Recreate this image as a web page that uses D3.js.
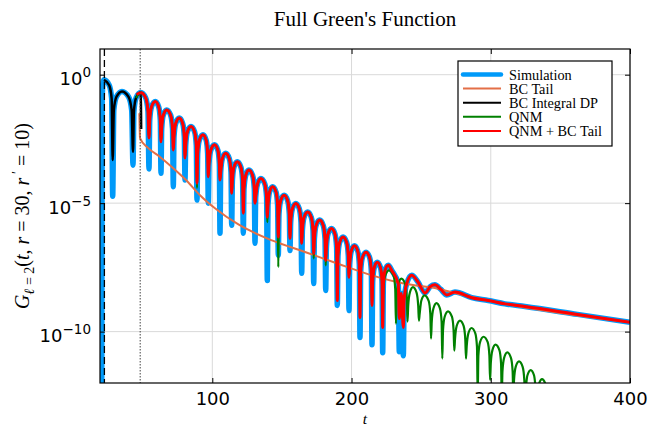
<!DOCTYPE html>
<html>
<head>
<meta charset="utf-8">
<script src="https://cdnjs.cloudflare.com/ajax/libs/d3/7.8.5/d3.min.js"></script>
<style>
body { margin: 0; background: #fff; }
text { white-space: pre; }
</style>
</head>
<body>
<div id="vis"></div>
<script>
// ---- data (log10 of G) ----
var xTickValues = [100, 200, 300, 400];
var yTickValues = [1, 1e-5, 1e-10];
var yTickExp = ["0", "\u22125", "\u221210"];

var lightConeT = 22.5;   // dashed line
var matchT = 48.2;       // dotted line

// shared arches (peaks + shoulders) of the ringing part
var archT = [22.2, 25.96, 27.71,
  29.26, 31.16, 35.14, 39.84, 42.09,
  43.7, 45.25, 48.57, 52.15, 53.8,
  55.07, 56.33, 59.06, 61.5, 62.65,
  63.65, 64.8, 67.25, 70.1, 71.42,
  72.5, 73.7, 76.3, 78.75, 79.9,
  80.9, 82.1, 84.7, 87.3, 88.5,
  89.5, 90.7, 93.3, 95.6, 96.65,
  97.65, 98.9, 101.58, 104.0, 105.05,
  106.03, 107.2, 109.62, 112.2, 113.43,
  114.43, 115.55, 117.95, 120.55, 121.76,
  122.76, 124.0, 126.3, 128.95, 130.17,
  131.17, 132.5, 134.9, 137.7, 139.0,
  140.0, 141.1, 143.3, 145.8, 146.9,
  147.9, 149.1, 151.6, 154.1, 155.3,
  156.3, 157.5, 160.0, 162.5, 163.7,
  164.7, 165.9, 168.5, 171.1, 172.33,
  173.33, 174.55, 177.1, 179.7, 180.95,
  181.95, 183.1, 185.6, 188.1, 189.28,
  190.28, 191.45, 193.9, 196.5, 197.68,
  198.68, 199.8, 202.1, 204.5, 205.58,
  206.58, 207.8, 210.4, 213.0, 214.2,
  215.2, 216.3, 218.5, 220.8, 221.88];
var archLogG = [-0.20, -0.41, -0.93,
  -1.38, -0.86, -0.65, -0.86, -1.38,
  -1.42, -0.90, -0.69, -0.90, -1.42,
  -1.77, -1.25, -1.04, -1.25, -1.77,
  -2.10, -1.58, -1.37, -1.58, -2.10,
  -2.42, -1.90, -1.69, -1.90, -2.42,
  -2.75, -2.23, -2.02, -2.23, -2.75,
  -3.07, -2.55, -2.34, -2.55, -3.07,
  -3.46, -2.94, -2.73, -2.94, -3.46,
  -3.79, -3.27, -3.06, -3.27, -3.79,
  -4.12, -3.60, -3.39, -3.60, -4.12,
  -4.44, -3.92, -3.71, -3.92, -4.44,
  -4.77, -4.25, -4.04, -4.25, -4.77,
  -5.09, -4.57, -4.36, -4.57, -5.09,
  -5.42, -4.90, -4.69, -4.90, -5.42,
  -5.74, -5.22, -5.01, -5.22, -5.74,
  -6.07, -5.55, -5.34, -5.55, -6.07,
  -6.39, -5.87, -5.66, -5.87, -6.39,
  -6.72, -6.20, -5.99, -6.20, -6.72,
  -7.05, -6.53, -6.32, -6.53, -7.05,
  -7.39, -6.87, -6.66, -6.87, -7.39,
  -7.64, -7.12, -6.91, -7.12, -7.64,
  -8.03, -7.51, -7.30, -7.51, -8.03];

// troughs of the ringing part, depth per curve
var troughT = [28.46, 43.04, 54.53, 63.15, 71.99, 80.39, 89.01, 97.12, 105.53, 113.93, 122.26, 130.67,
  139.5, 147.4, 155.8, 164.21, 172.83, 181.45, 189.78, 198.18, 206.08, 214.7, 222.38];
var simTroughLogG = [-4.73, -3.52, -3.67, -3.84, -4.36, -4.10, -4.88, -5.00, -6.17, -5.86, -6.17, -6.56,
  -8.01, -7.03, -6.84, -7.73, -8.13, -8.40, -8.98, -9.18, -10.23, -10.51, -10.82];
var fitTroughLogG = [null, null, -2.46, -2.61, -2.93, -3.24, -4.22, -3.97, -4.10, -4.61, -5.39, -5.00,
  -5.54, -6.32, -6.37, -6.56, -6.95, -7.23, -8.79, -7.88, -9.45, -8.98, -9.84];
var qnmTroughLogG = [null, null, -2.46, -2.61, -2.93, -3.24, -4.41, -3.97, -4.10, -4.61, -5.39, -5.00,
  -5.74, -7.49, -6.37, -6.56, -7.15, -7.42, -8.79, -7.89, -9.45, -8.98, -9.84];

// Simulation
var simHeadT = [20.6, 20.9, 21.5];
var simHeadLogG = [-13, -1.0, -0.30];

// late part shared by Simulation and QNM + BC Tail
var tailT = [222.88, 224.0, 226.4, 229.0, 233.6, 235.7, 237.8, 239.6, 243.2, 247.5, 252.8, 256.5,
  259.9, 264.0, 268.4, 274.3, 286.3, 298.2, 310.2, 324.6, 362.3, 400];
var tailLogG = [-8.10, -7.63, -7.42, -7.63, -8.15, -8.52, -8.75, -8.14, -7.81, -8.05, -8.50, -8.25,
  -8.18, -8.35, -8.57, -8.46, -8.68, -8.79, -8.92, -9.02, -9.33, -9.64];
var tailTroughT = [234.3, 237.2];
var simTailTroughLogG = [-10.78, -10.94];
var fitTailTroughLogG = [-9.49, -9.84];

// QNM + BC Tail start
var fitHeadT = [45.7];
var fitHeadLogG = [-0.78];

// QNM
var qnmHeadT = [45.2];
var qnmHeadLogG = [-0.91];
var qnmTailT = [222.88, 224.1, 226.9, 230.2, 231.4, 231.9,
  232.4, 233.6, 235.8, 238.5, 239.7, 240.2,
  240.7, 241.9, 244.1, 246.7, 247.9, 248.4,
  248.9, 250.1, 252.4, 255.4, 256.6, 257.1,
  257.6, 258.8, 261.0, 263.5, 264.7, 265.2,
  265.7, 266.9, 269.3, 272.1, 273.3, 273.8,
  274.3, 275.5, 277.9, 280.5, 281.7, 282.2,
  282.7, 283.9, 286.2, 288.9, 290.1, 290.6,
  291.1, 292.3, 294.8, 297.8, 299.0, 299.5,
  300.0, 301.2, 303.4, 306.2, 307.4, 307.9,
  308.4, 309.6, 311.9, 314.5, 315.7, 316.2,
  316.7, 317.9, 320.3, 322.9, 324.1, 324.6,
  325.1, 326.3, 328.7, 331.1, 332.3, 332.8,
  333.3, 334.5, 336.8, 339.4, 340.6, 341.1];
var qnmTailLogG = [-8.35, -7.83, -7.62, -7.83, -8.35, -9.69,
  -8.67, -8.15, -7.94, -8.15, -8.67, -9.61,
  -9.00, -8.48, -8.27, -8.48, -9.00, -9.57,
  -9.32, -8.80, -8.59, -8.80, -9.32, -10.27,
  -9.62, -9.10, -8.89, -9.10, -9.62, -11.05,
  -9.94, -9.42, -9.21, -9.42, -9.94, -10.74,
  -10.30, -9.78, -9.57, -9.78, -10.30, -11.05,
  -10.59, -10.07, -9.86, -10.07, -10.59, -12.5,
  -10.93, -10.41, -10.20, -10.41, -10.93, -11.88,
  -11.24, -10.72, -10.51, -10.72, -11.24, -12.5,
  -11.54, -11.02, -10.81, -11.02, -11.54, -12.5,
  -11.89, -11.37, -11.16, -11.37, -11.89, -12.5,
  -12.23, -11.71, -11.50, -11.71, -12.23, -12.5,
  -12.58, -12.06, -11.85, -12.06, -12.58, -13.0];

// BC Integral DP
var dpTroughT = [28.46, 43.04];
var dpTroughLogG = [-3.32, -3.00];
var dpEndT = [48.9];
var dpEndLogG = [-2.11];

// BC Tail
var bcT = [47.6, 47.9, 48.07, 53.82, 62.43, 71.77, 81.11, 91.16, 101.93, 118.45, 142.87, 166.58,
  190.28, 214.7, 238.4, 262.1, 274.3, 298.0, 400];
var bcLogG = [-1.50, -2.20, -2.47, -2.85, -3.20, -3.63, -4.10, -4.69, -5.20, -5.82, -6.45, -6.90,
  -7.36, -7.81, -8.14, -8.33, -8.50, -8.79, -9.64];

var legendNames = ["Simulation", "BC Tail", "BC Integral DP", "QNM", "QNM + BC Tail"];
var colors = ["#009af9", "#e36f47", "#000000", "#008000", "#ff0000"];
var lineWidths = [5.5, 2, 2.5, 2.2, 3];

// ---- layout ----
var width = 650;
var height = 427;
var margin = {top: 49, left: 100, right: 20, bottom: 44};
var plotW = width - margin.left - margin.right;
var plotH = height - margin.top - margin.bottom;

var svg = d3.select("#vis")
    .append("svg")
    .attr("width", width)
    .attr("height", height)
    .style("font-family", "'DejaVu Sans', sans-serif");

var g = svg.append("g")
    .attr("transform", "translate(" + margin.left + "," + margin.top + ")");

var xscale = d3.scaleLinear().domain([19.34, 400]).range([0, plotW]);
var yscale = d3.scaleLog().domain([1e-12, 10]).range([plotH, 0]);

// grid
g.append("g").selectAll("line").data(xTickValues).enter().append("line")
    .attr("x1", function (d) { return xscale(d); })
    .attr("x2", function (d) { return xscale(d); })
    .attr("y1", 0).attr("y2", plotH)
    .attr("stroke", "#d9d9d9").attr("stroke-width", 1);
g.append("g").selectAll("line").data(yTickValues).enter().append("line")
    .attr("y1", function (d) { return yscale(d); })
    .attr("y2", function (d) { return yscale(d); })
    .attr("x1", 0).attr("x2", plotW)
    .attr("stroke", "#d9d9d9").attr("stroke-width", 1);

// curves
g.append("clipPath").attr("id", "clip")
    .append("rect").attr("width", plotW).attr("height", plotH);

function pick(ts, es, lo, hi) {
    var out = [];
    ts.forEach(function (t, i) {
        if (es[i] === null) return;
        if (lo !== undefined && t <= lo) return;
        if (hi !== undefined && t > hi) return;
        out.push({t: t, e: es[i]});
    });
    return out;
}
function join() {
    var pts = [];
    for (var i = 0; i < arguments.length; i++) pts = pts.concat(arguments[i]);
    return pts.sort(function (a, b) { return a.t - b.t; });
}

var simPts = join(pick(simHeadT, simHeadLogG), pick(archT, archLogG), pick(troughT, simTroughLogG),
    pick(tailT, tailLogG), pick(tailTroughT, simTailTroughLogG));
var bcPts = join(pick(bcT, bcLogG));
var dpPts = join(pick(archT, archLogG, undefined, 48.6), pick(dpTroughT, dpTroughLogG), pick(dpEndT, dpEndLogG));
var qnmPts = join(pick(qnmHeadT, qnmHeadLogG), pick(archT, archLogG, 45.3), pick(troughT, qnmTroughLogG),
    pick(qnmTailT, qnmTailLogG));
var fitPts = join(pick(fitHeadT, fitHeadLogG), pick(archT, archLogG, 45.7), pick(troughT, fitTroughLogG),
    pick(tailT, tailLogG), pick(tailTroughT, fitTailTroughLogG));

var line = d3.line()
    .x(function (d) { return xscale(d.t); })
    .y(function (d) { return yscale(Math.pow(10, d.e)); })
    .curve(d3.curveMonotoneX);

var curves = g.append("g").attr("clip-path", "url(#clip)");
[simPts, bcPts, dpPts, qnmPts, fitPts].forEach(function (pts, i) {
    curves.append("path")
        .attr("d", line(pts))
        .attr("fill", "none")
        .attr("stroke", colors[i])
        .attr("stroke-width", lineWidths[i])
        .attr("stroke-linejoin", "round");
});

// vertical markers
g.append("line")
    .attr("x1", xscale(lightConeT)).attr("x2", xscale(lightConeT))
    .attr("y1", 0).attr("y2", plotH)
    .attr("stroke", "#000").attr("stroke-width", 1.3)
    .attr("stroke-dasharray", "7,4");
g.append("line")
    .attr("x1", xscale(matchT)).attr("x2", xscale(matchT))
    .attr("y1", 0).attr("y2", plotH)
    .attr("stroke", "#444").attr("stroke-width", 1)
    .attr("stroke-dasharray", "1.5,1.5");

// axes
var xaxis = d3.axisBottom(xscale).tickValues(xTickValues).tickSizeInner(-5).tickSizeOuter(0).tickPadding(9);
var yaxis = d3.axisLeft(yscale).tickValues(yTickValues).tickSizeInner(-5).tickSizeOuter(0).tickPadding(9);

var gx = g.append("g").attr("transform", "translate(0," + plotH + ")").call(xaxis);
gx.selectAll("text").attr("font-size", 18).attr("font-family", "'DejaVu Sans', sans-serif").attr("fill", "#000");

var gy = g.append("g").call(yaxis);
gy.selectAll("text")
    .attr("font-family", "'DejaVu Sans', sans-serif")
    .attr("fill", "#000")
    .attr("dy", null)
    .attr("y", 10)
    .each(function (d, i) {
        var t = d3.select(this).text(null);
        t.append("tspan").attr("font-size", 18).text("10");
        t.append("tspan").attr("font-size", 13.5).attr("dy", -8).text(yTickExp[i]);
    });

g.append("g").call(d3.axisTop(xscale).tickValues(xTickValues).tickSizeInner(-5).tickSizeOuter(0).tickFormat(""));
g.append("g").attr("transform", "translate(" + plotW + ",0)")
    .call(d3.axisRight(yscale).tickValues(yTickValues).tickSizeInner(-5).tickSizeOuter(0).tickFormat(""));
g.selectAll(".domain").remove();
g.selectAll(".tick line").attr("stroke", "#000");

g.append("rect")
    .attr("width", plotW).attr("height", plotH)
    .attr("fill", "none").attr("stroke", "#000").attr("stroke-width", 1.2);

// title and labels
svg.append("text")
    .attr("x", margin.left + plotW / 2).attr("y", 26)
    .attr("text-anchor", "middle")
    .attr("font-family", "'Liberation Serif', serif")
    .attr("font-size", 21)
    .text("Full Green's Function");

svg.append("text")
    .attr("x", margin.left + plotW / 2).attr("y", 423.5)
    .attr("text-anchor", "middle")
    .attr("font-family", "'Liberation Serif', serif")
    .attr("font-style", "italic")
    .attr("font-size", 15.5)
    .text("t");

var ylab = svg.append("text")
    .attr("transform", "translate(29,216) rotate(-90)")
    .attr("text-anchor", "middle")
    .attr("font-family", "'Liberation Serif', serif")
    .attr("font-size", 20);
ylab.append("tspan").attr("font-style", "italic").text("G");
ylab.append("tspan").attr("font-size", 14).attr("dy", 5).attr("font-style", "italic").text("\u2113");
ylab.append("tspan").attr("font-size", 14).text(" = 2");
ylab.append("tspan").attr("dy", -5).text("(");
ylab.append("tspan").attr("font-style", "italic").text("t");
ylab.append("tspan").text(", ");
ylab.append("tspan").attr("font-style", "italic").text("r");
ylab.append("tspan").text(" = 30, ");
ylab.append("tspan").attr("font-style", "italic").text("r");
ylab.append("tspan").attr("font-size", 14).attr("dy", -7).text(" \u2032");
ylab.append("tspan").attr("dy", 7).text(" = 10)");

// legend
var legend = svg.append("g");
legend.append("rect")
    .attr("x", 458).attr("y", 61).attr("width", 154).attr("height", 85)
    .attr("fill", "#fff").attr("stroke", "#000").attr("stroke-width", 1.2);
legendNames.forEach(function (name, i) {
    var ly = 74.5 + i * 14.1;
    legend.append("line")
        .attr("x1", 463).attr("x2", 501).attr("y1", ly).attr("y2", ly)
        .attr("stroke", colors[i])
        .attr("stroke-width", i === 0 ? 4.5 : 2)
        .attr("stroke-linecap", i === 0 ? "round" : "butt");
    legend.append("text")
        .attr("x", 509).attr("y", ly + 5)
        .attr("font-family", "'Liberation Serif', serif")
        .attr("font-size", 14.3)
        .text(name);
});
</script>
</body>
</html>
